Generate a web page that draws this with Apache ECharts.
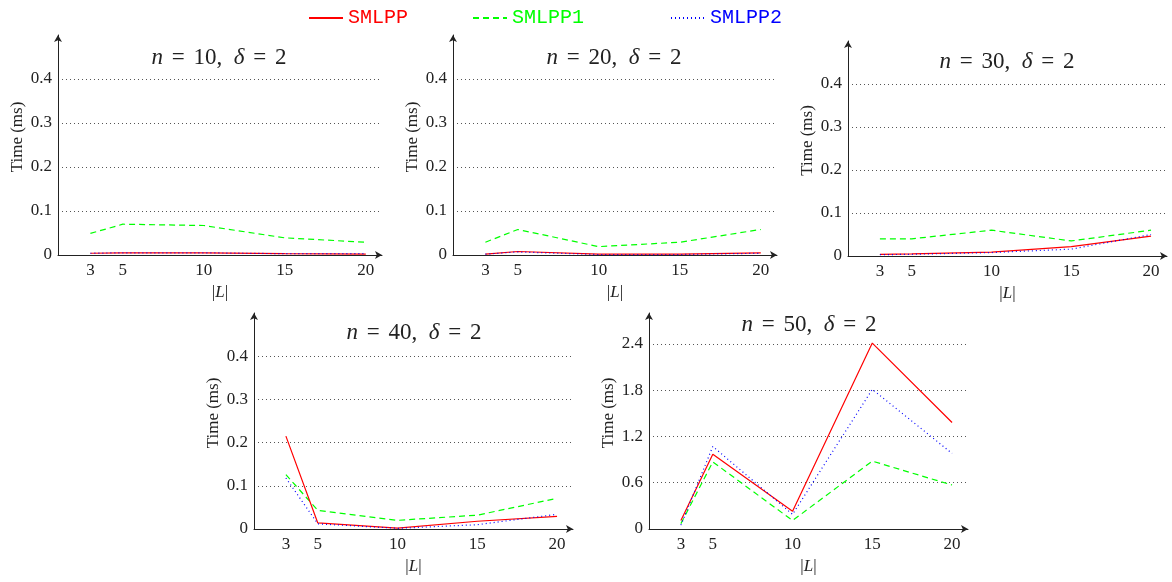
<!DOCTYPE html>
<html>
<head>
<meta charset="utf-8">
<script src="https://cdn.jsdelivr.net/npm/echarts@6/dist/echarts.min.js"></script>
<style>
  html, body { margin: 0; padding: 0; background: #fff; }
  #main { width: 1172px; height: 582px; }
</style>
</head>
<body>
<div id="main"></div>
<script>
// |L| values on the x axis
const sizes = [3, 5, 10, 15, 20];
// n for each panel (delta is always 2)
const nValues = [10, 20, 30, 40, 50];

// times in ms, one row per panel (n = 10, 20, 30, 40, 50)
const smlpp = [
  [0.004, 0.005, 0.005, 0.003, 0.002],
  [0.002, 0.008, 0.002, 0.002, 0.005],
  [0.004, 0.005, 0.009, 0.022, 0.046],
  [0.215, 0.014, 0.002, 0.018, 0.029],
  [0.11, 0.97, 0.23, 2.41, 1.38]
];
const smlpp1 = [
  [0.049, 0.07, 0.067, 0.039, 0.029],
  [0.029, 0.058, 0.019, 0.029, 0.058],
  [0.04, 0.04, 0.06, 0.035, 0.06],
  [0.126, 0.043, 0.02, 0.032, 0.071],
  [0.07, 0.87, 0.11, 0.88, 0.57]
];
const smlpp2 = [
  [0.004, 0.005, 0.005, 0.003, 0.003],
  [0.002, 0.007, 0.001, 0.001, 0.004],
  [0.003, 0.004, 0.008, 0.016, 0.05],
  [0.118, 0.012, 0.0015, 0.01, 0.034],
  [0.05, 1.07, 0.19, 1.81, 0.98]
];
const yMax = [0.5, 0.5, 0.5, 0.5, 2.8];
const yStep = [0.1, 0.1, 0.1, 0.1, 0.6];

// panel boxes: left, top, width, height
const boxes = [
  [58, 35, 324, 220],
  [453, 35, 324, 220],
  [848, 41, 319, 215],
  [254, 313, 319, 216],
  [649, 313, 319, 216]
];
const titlePos = [[219, 58], [614, 58], [1007, 62], [414, 333], [809, 325]];

const serif = '"Liberation Serif", "DejaVu Serif", serif';
const mono = '"Liberation Mono", "DejaVu Sans Mono", monospace';
const axisColor = '#222';

let grid = [], xAxis = [], yAxis = [], title = [], series = [];

boxes.forEach((b, i) => {
  grid.push({ left: b[0], top: b[1], width: b[2], height: b[3] });

  title.push({
    text: '{i|n}{s| = }' + nValues[i] + ',  {i|δ}{s| = }2',
    left: titlePos[i][0],
    top: titlePos[i][1],
    padding: 0,
    textAlign: 'center',
    textVerticalAlign: 'middle',
    textStyle: {
      fontFamily: serif,
      fontSize: 23,
      fontWeight: 'normal',
      color: '#222',
      rich: {
        i: { fontStyle: 'italic', fontFamily: serif, fontSize: 23, color: '#222' },
        s: { fontFamily: serif, fontSize: 23, color: '#222', padding: [0, 3, 0, 3] }
      }
    }
  });

  xAxis.push({
    type: 'value',
    gridIndex: i,
    min: 1,
    max: 21,
    name: '|{i|L}|',
    nameLocation: 'middle',
    nameGap: 29,
    nameTextStyle: {
      fontFamily: serif, fontSize: 17, color: '#222',
      rich: { i: { fontStyle: 'italic', fontFamily: serif, fontSize: 17, color: '#222' } }
    },
    axisLine: {
      lineStyle: { color: axisColor, width: 1 },
      symbol: ['none', 'arrow'],
      symbolSize: [6, 7]
    },
    axisTick: { show: false },
    splitLine: { show: false },
    axisLabel: {
      customValues: sizes,
      margin: 7,
      fontFamily: serif,
      fontSize: 17,
      color: '#222'
    }
  });

  yAxis.push({
    type: 'value',
    gridIndex: i,
    min: 0,
    max: yMax[i],
    interval: yStep[i],
    name: 'Time (ms)',
    nameLocation: 'middle',
    nameGap: 32,
    nameTextStyle: { fontFamily: serif, fontSize: 17, color: '#222', padding: [0, 0, 0, 16] },
    axisLine: {
      show: true,
      lineStyle: { color: axisColor, width: 1 },
      symbol: ['none', 'arrow'],
      symbolSize: [6, 7]
    },
    axisTick: { show: false },
    axisLabel: {
      showMaxLabel: false,
      margin: 6,
      fontFamily: serif,
      fontSize: 17,
      color: '#222',
      formatter: v => (v === 0 ? '0' : v.toFixed(1))
    },
    splitLine: {
      show: true,
      showMinLine: false,
      showMaxLine: false,
      lineStyle: { color: '#555', width: 1, type: [1, 3] }
    }
  });

  series.push({
    name: 'SMLPP', type: 'line', xAxisIndex: i, yAxisIndex: i,
    symbol: 'none',
    data: sizes.map((s, k) => [s, smlpp[i][k]]),
    itemStyle: { color: '#ff0000' },
    lineStyle: { color: '#ff0000', width: 1.2 },
    z: 3
  });
  series.push({
    name: 'SMLPP1', type: 'line', xAxisIndex: i, yAxisIndex: i,
    symbol: 'none',
    data: sizes.map((s, k) => [s, smlpp1[i][k]]),
    itemStyle: { color: '#00ff00' },
    lineStyle: { color: '#00ff00', width: 1.2, type: [6, 4] },
    z: 2
  });
  series.push({
    name: 'SMLPP2', type: 'line', xAxisIndex: i, yAxisIndex: i,
    symbol: 'none',
    data: sizes.map((s, k) => [s, smlpp2[i][k]]),
    itemStyle: { color: '#0000ff' },
    lineStyle: { color: '#0000ff', width: 1.2, type: [1, 3] },
    z: 4
  });
});

const legendColors = { SMLPP: '#ff0000', SMLPP1: '#00ff00', SMLPP2: '#0000ff' };
const legendLeft = { SMLPP: 303, SMLPP1: 467, SMLPP2: 665 };
let legend = Object.keys(legendColors).map(name => ({
  data: [name],
  left: legendLeft[name],
  top: 3,
  itemWidth: 34,
  itemHeight: 14,
  itemGap: 10,
  selectedMode: false,
  itemStyle: { opacity: 0 },
  textStyle: { fontFamily: mono, fontSize: 20, color: legendColors[name] }
}));

let option = {
  animation: false,
  backgroundColor: '#fff',
  title: title,
  legend: legend,
  grid: grid,
  xAxis: xAxis,
  yAxis: yAxis,
  series: series
};

var myChart = echarts.init(document.getElementById('main'));
myChart.setOption(option);
</script>
</body>
</html>
